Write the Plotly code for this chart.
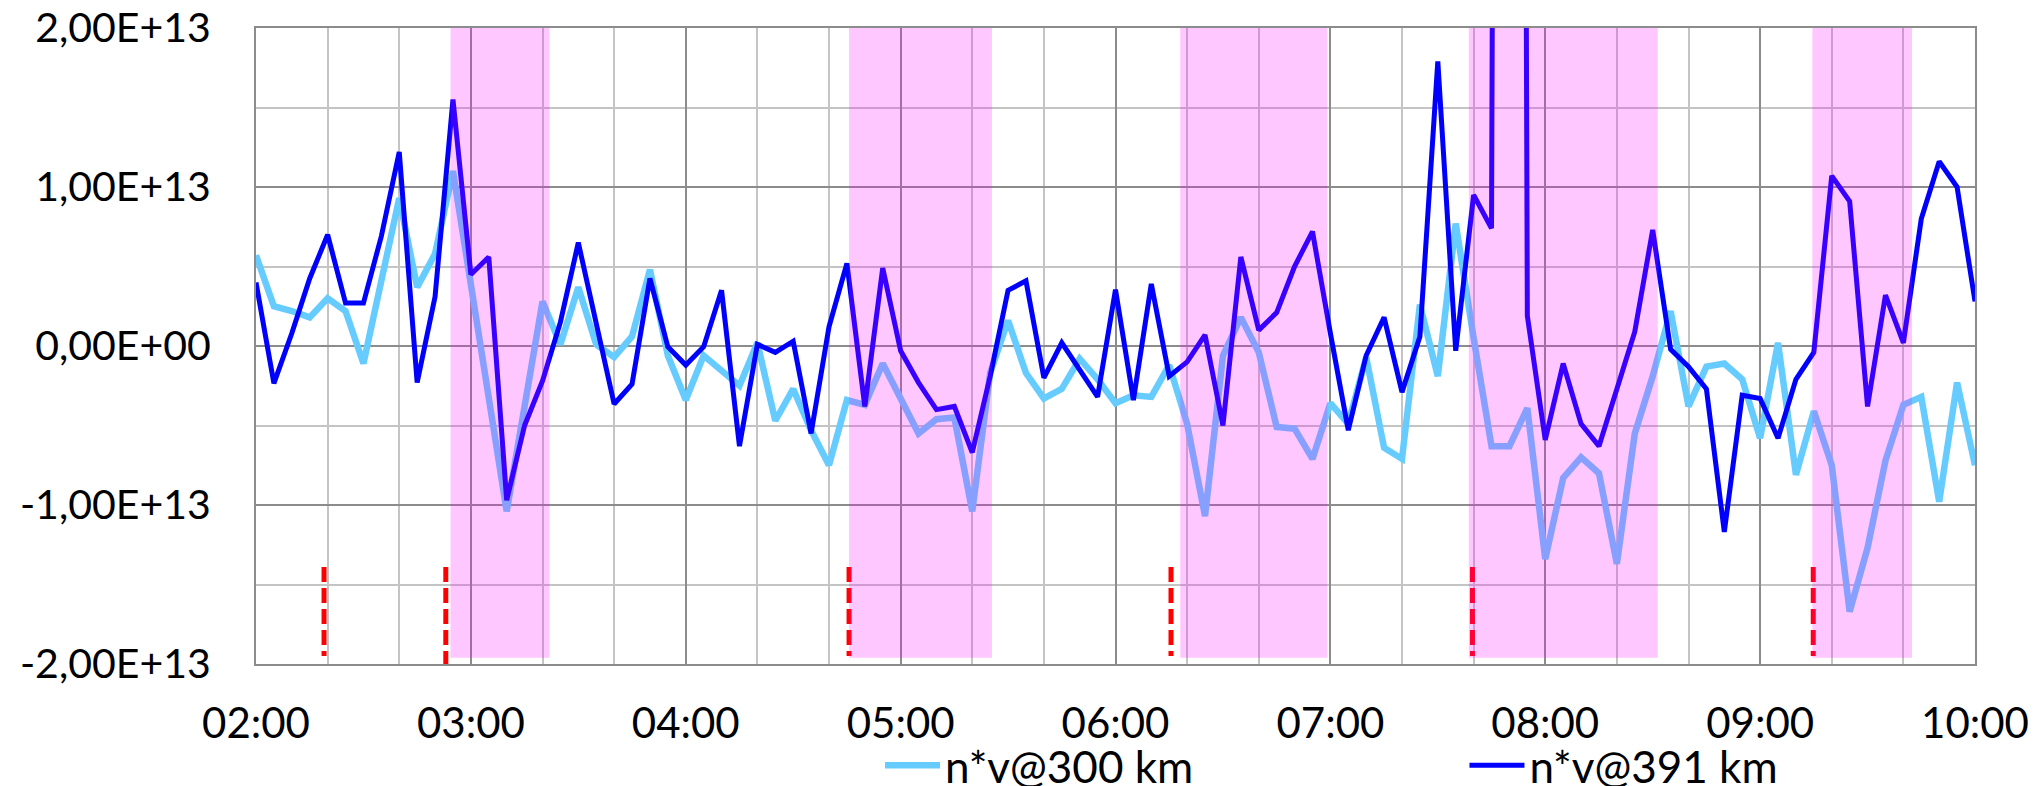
import pandas as pd
import plotly.graph_objects as go

# ---------------- data (values in units of 1e13) ----------------
start_time = "2024-01-01 02:00"
end_time = "2024-01-01 10:00"
times = pd.date_range(start_time, periods=97, freq="5min")

nv_300_e13 = [
    0.57, 0.25, 0.22, 0.18, 0.30, 0.22, -0.11, 0.41, 0.93, 0.37, 0.58, 1.10,
    0.39, -0.33, -1.04, -0.38, 0.28, 0.01, 0.37, 0.01, -0.07, 0.06, 0.48, -0.06,
    -0.34, -0.06, -0.16, -0.25, 0.02, -0.47, -0.27, -0.53, -0.75, -0.34, -0.37, -0.11,
    -0.33, -0.55, -0.46, -0.45, -1.04, -0.17, 0.16, -0.17, -0.33, -0.27, -0.08, -0.21,
    -0.36, -0.31, -0.32, -0.12, -0.49, -1.07, -0.06, 0.18, -0.04, -0.51, -0.52, -0.71,
    -0.36, -0.49, -0.07, -0.64, -0.71, 0.26, -0.19, 0.77, 0.05, -0.63, -0.63, -0.39,
    -1.34, -0.83, -0.70, -0.80, -1.37, -0.55, -0.19, 0.22, -0.38, -0.13, -0.11, -0.21,
    -0.58, 0.02, -0.81, -0.41, -0.75, -1.67, -1.27, -0.72, -0.37, -0.32, -0.98, -0.23,
    -0.75,
]

nv_391_e13 = [
    0.40, -0.235, 0.08, 0.425, 0.70, 0.27, 0.27, 0.69, 1.22, -0.23, 0.31, 1.55,
    0.45, 0.56, -0.97, -0.50, -0.22, 0.15, 0.65, 0.14, -0.365, -0.24, 0.425, -0.005,
    -0.12, -0.005, 0.35, -0.63, 0.01, -0.04, 0.03, -0.55, 0.12, 0.52, -0.38, 0.49,
    -0.03, -0.23, -0.40, -0.38, -0.67, -0.19, 0.35, 0.41, -0.20, 0.02, -0.15, -0.32,
    0.355, -0.34, 0.39, -0.19, -0.10, 0.07, -0.50, 0.56, 0.10, 0.21, 0.50, 0.72,
    0.08, -0.53, -0.06, 0.18, -0.29, 0.06, 1.79, -0.03, 0.95, 0.74, 33.0, 0.19,
    -0.59, -0.11, -0.49, -0.63, -0.27, 0.09, 0.73, -0.02, -0.13, -0.27, -1.17, -0.31,
    -0.33, -0.58, -0.21, -0.04, 1.07, 0.91, -0.38, 0.32, 0.02, 0.80, 1.16, 1.00,
    0.28,
]

series_names = ["n*v@300 km", "n*v@391 km"]

event_times = ["2024-01-01 02:19", "2024-01-01 02:53", "2024-01-01 04:45:36",
               "2024-01-01 06:15:30", "2024-01-01 07:39:40", "2024-01-01 09:14:50"]

shaded_starts = ["2024-01-01 02:54:20", "2024-01-01 04:45:36", "2024-01-01 06:18:05",
                 "2024-01-01 07:38:40", "2024-01-01 09:14:35"]
shaded_ends = ["2024-01-01 03:21:55", "2024-01-01 05:25:30", "2024-01-01 06:59:10",
               "2024-01-01 08:31:25", "2024-01-01 09:42:25"]

y_tick_vals = [-2e13, -1e13, 0, 1e13, 2e13]
y_tick_text = ["-2,00E+13", "-1,00E+13", "0,00E+00", "1,00E+13", "2,00E+13"]
y_minor_vals = [-1.5e13, -0.5e13, 0.5e13, 1.5e13]

# ---------------- figure ----------------
FONT = "Lato"
MAJOR = "#8c8c8c"
MINOR = "#c4c4c4"

fig = go.Figure()
fig.add_trace(go.Scatter(
    x=times, y=[v * 1e13 for v in nv_300_e13], mode="lines", name=series_names[0],
    line=dict(color="#66CCFF", width=6.5), legend="legend"))
fig.add_trace(go.Scatter(
    x=times, y=[v * 1e13 for v in nv_391_e13], mode="lines", name=series_names[1],
    line=dict(color="#0000FF", width=5), legend="legend2"))

for i, t in enumerate(event_times):
    fig.add_shape(type="line", xref="x", yref="y", x0=t, x1=t,
                  y0=-1.39e13, y1=(-2.03e13 if i == 1 else -1.95e13),
                  line=dict(color="#FF0000", width=5, dash="15px,6px"), layer="above")

for s, e in zip(shaded_starts, shaded_ends):
    fig.add_shape(type="rect", xref="x", yref="y", x0=s, x1=e, y0=-1.96e13, y1=2e13,
                  fillcolor="rgba(255,0,255,0.22)", line=dict(width=0), layer="above")

fig.update_layout(
    width=2037, height=786,
    template="none",
    paper_bgcolor="white", plot_bgcolor="white",
    margin=dict(l=256, r=62, t=28, b=122, autoexpand=False),
    showlegend=True,
    legend=dict(orientation="h", x=0.363, y=-0.16, xanchor="left", yanchor="middle",
                font=dict(family=FONT, size=44, color="black"), bgcolor="rgba(0,0,0,0)",
                itemwidth=55),
    legend2=dict(orientation="h", x=0.703, y=-0.16, xanchor="left", yanchor="middle",
                 font=dict(family=FONT, size=44, color="black"), bgcolor="rgba(0,0,0,0)",
                 itemwidth=55),
    xaxis=dict(
        type="date", range=[start_time, end_time],
        tickformat="%H:%M", tick0=start_time, dtick=3600000,
        showgrid=True, gridcolor=MAJOR, gridwidth=2,
        minor=dict(tick0=start_time, dtick=20 * 60 * 1000, showgrid=True,
                   gridcolor=MINOR, gridwidth=2),
        showline=True, linecolor=MAJOR, linewidth=2, mirror=True,
        ticks="", zeroline=False, automargin=False,
        tickfont=dict(family=FONT, size=42, color="black"),
        ticklabelstandoff=22,
    ),
    yaxis=dict(
        range=[-2e13, 2e13], tickmode="array", tickvals=y_tick_vals, ticktext=y_tick_text,
        showgrid=True, gridcolor=MAJOR, gridwidth=2,
        minor=dict(tickmode="array", tickvals=y_minor_vals, showgrid=True,
                   gridcolor=MINOR, gridwidth=2),
        showline=True, linecolor=MAJOR, linewidth=2, mirror=True,
        ticks="", zeroline=False, automargin=False,
        tickfont=dict(family=FONT, size=41, color="black"),
        ticklabelstandoff=35,
    ),
)

fig.write_html("out.html")
